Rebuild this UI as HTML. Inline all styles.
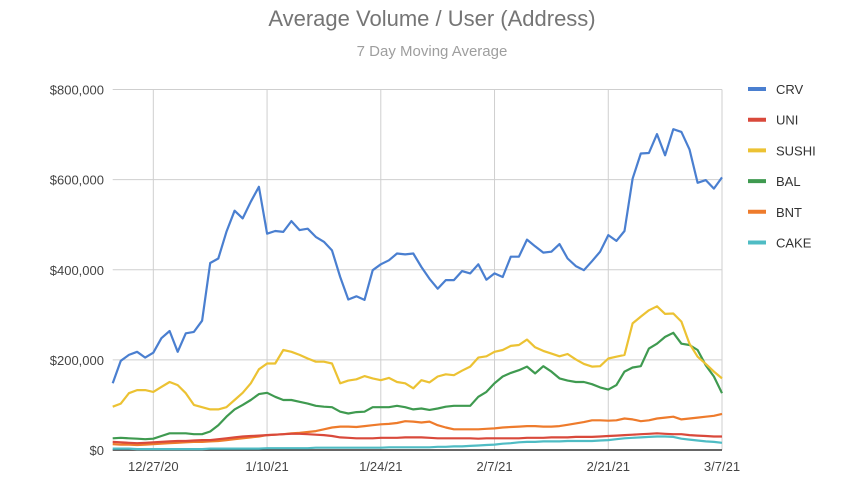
<!DOCTYPE html>
<html><head><meta charset="utf-8"><style>
body{margin:0;background:#fff;}
svg text{font-family:"Liberation Sans",Arial,sans-serif;}
</style></head><body>
<svg id="chart" width="864" height="479" viewBox="0 0 864 479">
<text x="432" y="26" text-anchor="middle" font-size="22" fill="#757575">Average Volume / User (Address)</text>
<text x="432" y="56" text-anchor="middle" font-size="15" fill="#9e9e9e">7 Day Moving Average</text>
<g id="grid"></g><g id="series"></g><g id="legend"></g>
</svg>
<script>
const seriesNames=["CRV","UNI","SUSHI","BAL","BNT","CAKE"];
const seriesColors=["#4a7fd0","#d9493b","#ecc233","#3f9a50","#ee7b2c","#4fbcc4"];
const yTicks=[0,200000,400000,600000,800000];
const yTickLabels=["$0","$200,000","$400,000","$600,000","$800,000"];
const xTickDays=[5,19,33,47,61,75];
const xTickLabels=["12/27/20","1/10/21","1/24/21","2/7/21","2/21/21","3/7/21"];
const crv=[148,198,211,218,205,216,248,264,218,259,262,287,415,425,484,531,514,551,584,480,486,484,508,488,491,473,462,443,384,334,341,333,399,412,421,436,434,436,406,380,358,377,377,397,392,412,378,392,384,429,429,467,452,438,440,457,425,408,399,419,440,477,464,486,602,658,659,701,654,712,706,667,593,599,580,605];
const uni=[18,17,16,15,16,17,18,19,20,20,21,22,22,24,26,28,30,31,32,33,34,35,36,36,35,34,33,31,28,27,26,26,26,27,27,27,28,28,28,27,26,26,26,26,26,25,26,26,26,26,26,27,27,27,28,28,28,29,29,29,30,31,32,33,34,35,36,37,36,35,35,33,32,31,30,30];
const sushi=[96,103,126,133,133,129,140,151,144,126,100,95,90,90,95,111,127,148,179,192,192,222,218,211,203,196,196,192,148,154,157,164,159,155,160,151,148,137,155,150,163,168,166,176,185,205,208,218,222,231,233,245,228,220,214,208,213,201,191,185,186,203,207,211,281,296,310,319,302,303,285,236,207,191,174,159];
const bal=[26,27,26,25,24,25,31,37,37,37,35,35,41,55,74,90,100,111,124,127,118,111,111,107,103,98,96,95,85,81,84,85,95,95,95,98,95,90,92,89,92,96,98,98,98,118,129,148,163,171,177,185,170,186,174,159,154,151,151,146,139,134,144,174,183,186,225,236,251,260,236,233,222,188,163,126];
const bnt=[13,12,12,11,12,13,14,15,16,17,18,18,19,20,22,24,26,28,30,33,34,35,37,38,40,42,46,50,52,52,51,53,55,57,58,60,64,63,61,63,55,50,46,46,46,46,47,48,50,51,52,53,53,52,52,53,56,59,62,66,66,65,66,70,68,64,66,70,72,74,68,70,72,74,76,80];
const cake=[3,3,3,2,2,2,2,2,2,2,2,2,3,3,3,3,3,3,3,4,4,4,4,4,4,5,5,5,5,5,5,5,5,5,6,6,6,6,6,6,7,7,8,8,9,10,11,12,14,15,17,18,18,19,19,19,20,20,20,20,21,22,24,26,27,28,29,30,30,29,25,23,21,19,18,16];
const seriesData=[crv,uni,sushi,bal,bnt,cake];

const NS="http://www.w3.org/2000/svg";
const X0=112.7,X1=722,Y0=450,Y1=89.5,YMAX=800000,NDAYS=75;
function xs(d){return X0+(X1-X0)*d/NDAYS;}
function ys(v){return Y0-(Y0-Y1)*v/YMAX;}
function mk(tag,attrs,parent){const e=document.createElementNS(NS,tag);for(const k in attrs)e.setAttribute(k,attrs[k]);parent.appendChild(e);return e;}
const grid=document.getElementById('grid'),ser=document.getElementById('series'),leg=document.getElementById('legend');
yTicks.forEach((t,i)=>{
  if(t>0){const l=mk('line',{x1:X0,x2:X1,y1:ys(t),y2:ys(t),stroke:'#cfcfcf','stroke-width':1},grid);
  
  }
  const tx=mk('text',{x:104,y:ys(t)+5,'text-anchor':'end','font-size':13,fill:'#444'},grid);
  tx.textContent=yTickLabels[i];
  
  
});
xTickDays.forEach((d,i)=>{
  const l=mk('line',{x1:xs(d),x2:xs(d),y1:Y1,y2:Y0,stroke:'#cfcfcf','stroke-width':1},grid);
  
  
  const tx=mk('text',{x:xs(d),y:471,'text-anchor':'middle','font-size':13,fill:'#444'},grid);
  tx.textContent=xTickLabels[i];
  
  
});
const ax=mk('line',{x1:X0,x2:X1,y1:Y0,y2:Y0,stroke:'#333','stroke-width':1.5},grid);


for(let s=seriesData.length-1;s>=0;s--){
  const pts=seriesData[s].map((v,d)=>xs(d).toFixed(1)+','+ys(v*1000).toFixed(1)).join(' ');
  const p=mk('polyline',{points:pts,fill:'none',stroke:seriesColors[s],'stroke-width':2.2,'stroke-linejoin':'round'},ser);
  
  
}
seriesNames.forEach((n,i)=>{
  const y=89+i*30.7;
  const g=mk('g',{},leg);
  
  
  mk('line',{x1:748,x2:766,y1:y,y2:y,stroke:seriesColors[i],'stroke-width':4},g);
  const t=mk('text',{x:776,y:y+5,'font-size':13,fill:'#333'},g);
  t.textContent=n;
});
</script>
</body></html>
